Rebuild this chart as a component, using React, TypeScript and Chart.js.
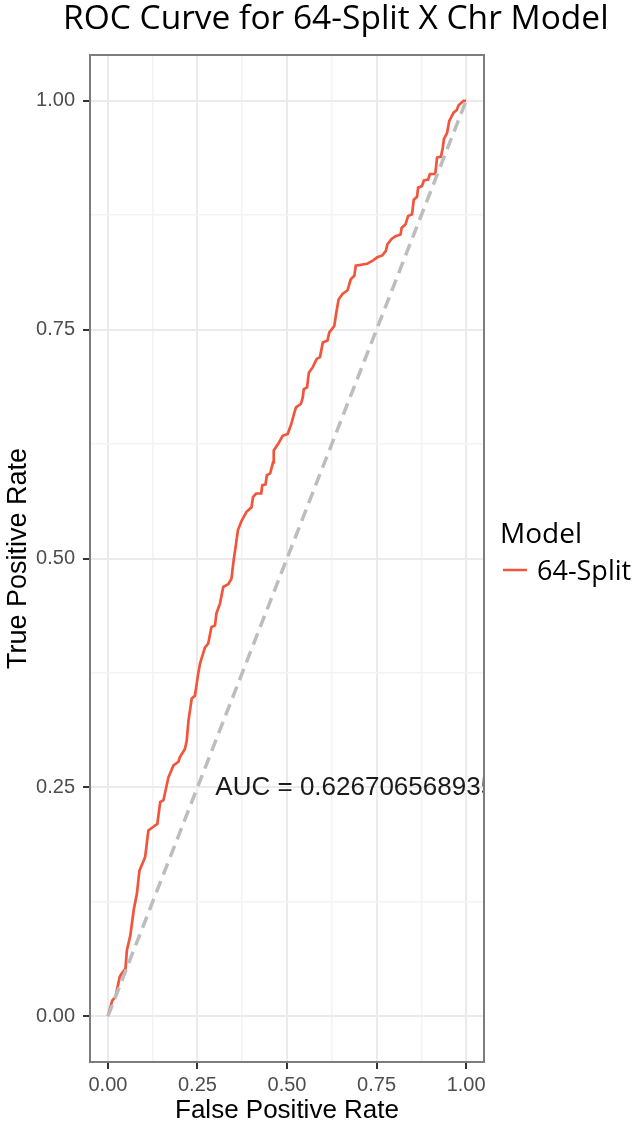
import { useEffect, useRef } from "react";
import { Chart, registerables } from "chart.js";

Chart.register(...registerables);

const chartTitle = "ROC Curve for 64-Split X Chr Model";
const xAxisTitle = "False Positive Rate";
const yAxisTitle = "True Positive Rate";
const legendTitle = "Model";
const seriesName = "64-Split";
const aucLabel = "AUC = 0.626706568935";
const aucX = 0.3;
const aucY = 0.25;

const majorTicks = [0, 0.25, 0.5, 0.75, 1];
const minorTicks = [0.125, 0.375, 0.625, 0.875];
const tickLabels = ["0.00", "0.25", "0.50", "0.75", "1.00"];

const fpr = [
  0, 0.012, 0.021, 0.033, 0.039, 0.049, 0.053, 0.0625, 0.072, 0.081, 0.088, 0.1, 0.104, 0.113, 0.127,
  0.138, 0.146, 0.155, 0.169, 0.183, 0.197, 0.201, 0.215, 0.22, 0.225, 0.234, 0.243, 0.252, 0.257,
  0.271, 0.28, 0.289, 0.299, 0.303, 0.313, 0.322, 0.336, 0.345, 0.351, 0.357, 0.363, 0.373, 0.387,
  0.401, 0.405, 0.414, 0.428, 0.431, 0.44, 0.444, 0.453, 0.461, 0.463, 0.475, 0.488, 0.502, 0.512,
  0.521, 0.525, 0.539, 0.544, 0.547, 0.556, 0.561, 0.572, 0.583, 0.592, 0.6, 0.613, 0.618, 0.632,
  0.637, 0.644, 0.655, 0.669, 0.678, 0.688, 0.692, 0.724, 0.738, 0.752, 0.766, 0.776, 0.78, 0.792,
  0.803, 0.817, 0.82, 0.831, 0.838, 0.849, 0.854, 0.863, 0.866, 0.877, 0.882, 0.894, 0.899, 0.914,
  0.919, 0.93, 0.935, 0.938, 0.947, 0.953, 0.965, 0.974, 0.979, 0.993, 1,
];
const tpr = [
  0, 0.017, 0.021, 0.043, 0.047, 0.052, 0.072, 0.088, 0.116, 0.134, 0.159, 0.17, 0.174, 0.203, 0.207,
  0.21, 0.234, 0.236, 0.261, 0.274, 0.278, 0.283, 0.292, 0.301, 0.323, 0.347, 0.35, 0.374, 0.385,
  0.403, 0.407, 0.425, 0.427, 0.44, 0.451, 0.469, 0.472, 0.478, 0.498, 0.514, 0.531, 0.541, 0.551,
  0.556, 0.567, 0.571, 0.571, 0.58, 0.581, 0.591, 0.593, 0.605, 0.618, 0.625, 0.634, 0.636, 0.647,
  0.66, 0.665, 0.669, 0.676, 0.685, 0.687, 0.703, 0.709, 0.718, 0.72, 0.736, 0.738, 0.747, 0.754,
  0.767, 0.783, 0.789, 0.793, 0.805, 0.809, 0.82, 0.822, 0.825, 0.829, 0.831, 0.836, 0.843, 0.849,
  0.852, 0.854, 0.861, 0.865, 0.874, 0.876, 0.892, 0.895, 0.905, 0.907, 0.913, 0.914, 0.92, 0.92,
  0.938, 0.939, 0.949, 0.958, 0.965, 0.978, 0.987, 0.99, 0.995, 1.0, 1,
];
const diagX = [0, 1];
const diagY = [0, 1];

const RED = "#f2553b";
const GREY_TEXT = "#4d4d4d";
const SANS = "'Liberation Sans', Arial, Helvetica, sans-serif";
const HUMANIST = "'Open Sans', 'Noto Sans', sans-serif";

const isMajor = (v: number) => majorTicks.some((m) => Math.abs(m - v) < 1e-9);
const labelFor = (v: number) => {
  const i = majorTicks.findIndex((m) => Math.abs(m - v) < 1e-9);
  return i >= 0 ? tickLabels[i] : "";
};

const decorPlugin = {
  id: "decor",
  afterDatasetsDraw(chart: any) {
    const { ctx, chartArea, scales } = chart;
    const a = chartArea;
    ctx.save();
    ctx.beginPath();
    ctx.rect(a.left, a.top, a.right - a.left, a.bottom - a.top);
    ctx.clip();
    ctx.fillStyle = "#1a1a1a";
    ctx.font = `26px ${SANS}`;
    ctx.textAlign = "left";
    ctx.textBaseline = "middle";
    ctx.fillText(aucLabel, scales.x.getPixelForValue(aucX), scales.y.getPixelForValue(aucY));
    ctx.restore();
    ctx.save();
    ctx.strokeStyle = "#7d7d7d";
    ctx.lineWidth = 2;
    ctx.strokeRect(a.left, a.top, a.right - a.left, a.bottom - a.top);
    ctx.restore();
  },
  afterDraw(chart: any) {
    const { ctx, chartArea } = chart;
    const a = chartArea;
    ctx.save();
    ctx.fillStyle = "#000";
    ctx.font = `33.5px ${HUMANIST}`;
    ctx.textAlign = "left";
    ctx.textBaseline = "middle";
    ctx.fillText(chartTitle, 63, 19);
    ctx.font = `26px ${SANS}`;
    ctx.textAlign = "center";
    ctx.fillText(xAxisTitle, (a.left + a.right) / 2, 1111);
    ctx.save();
    ctx.translate(19, (a.top + a.bottom) / 2);
    ctx.rotate(-Math.PI / 2);
    ctx.font = `27px ${SANS}`;
    ctx.fillText(yAxisTitle, 0, 0);
    ctx.restore();
    ctx.textAlign = "left";
    ctx.font = `28px ${HUMANIST}`;
    ctx.fillText(legendTitle, 500, 535);
    ctx.strokeStyle = RED;
    ctx.lineWidth = 2.5;
    ctx.beginPath();
    ctx.moveTo(503, 570);
    ctx.lineTo(527, 570);
    ctx.stroke();
    ctx.font = `27px ${HUMANIST}`;
    ctx.fillText(seriesName, 537, 572);
    ctx.restore();
  },
};

function makeScale(axis: "x" | "y") {
  return {
    type: "linear" as const,
    min: -0.05,
    max: 1.05,
    afterBuildTicks(scale: any) {
      scale.ticks = [...majorTicks, ...minorTicks].sort((p, q) => p - q).map((v) => ({ value: v }));
    },
    afterFit(scale: any) {
      if (axis === "y") scale.width = 90;
      else scale.height = 61;
    },
    border: { display: false },
    grid: {
      color: (c: any) => (isMajor(c.tick?.value) ? "#ebebeb" : "#f3f3f3"),
      lineWidth: (c: any) => (isMajor(c.tick?.value) ? 2 : 1.5),
      tickColor: (c: any) => (isMajor(c.tick?.value) ? "#333333" : "rgba(0,0,0,0)"),
      tickLength: 7,
      tickWidth: 2,
      drawTicks: true,
    },
    ticks: {
      autoSkip: false,
      maxRotation: 0,
      padding: axis === "y" ? 8 : 4,
      color: GREY_TEXT,
      font: { family: SANS, size: 20 },
      callback: (v: any) => labelFor(Number(v)),
    },
  };
}

export default function App() {
  const ref = useRef<HTMLCanvasElement | null>(null);
  useEffect(() => {
    document.body.style.margin = "0";
    const canvas = ref.current!;
    const chart = new Chart(canvas, {
      type: "line",
      data: {
        datasets: [
          {
            label: "diagonal",
            data: diagX.map((x, i) => ({ x, y: diagY[i] })),
            borderColor: "#bdbdbd",
            borderWidth: 3.5,
            borderDash: [12, 7],
            pointRadius: 0,
            tension: 0,
            order: 0,
          },
          {
            label: seriesName,
            data: fpr.map((x, i) => ({ x, y: tpr[i] })),
            borderColor: RED,
            borderWidth: 2.7,
            pointRadius: 0,
            tension: 0,
            order: 1,
          },
        ],
      },
      options: {
        animation: false,
        responsive: false,
        devicePixelRatio: 1,
        layout: { padding: { top: 55, right: 149, left: 0, bottom: 0 } },
        plugins: {
          legend: { display: false },
          title: { display: false },
          tooltip: { enabled: false },
        },
        scales: {
          x: makeScale("x"),
          y: makeScale("y"),
        },
      },
      plugins: [decorPlugin],
    });
    return () => chart.destroy();
  }, []);
  return (
    <div style={{ width: 633, height: 1123, background: "#fff" }}>
      <canvas ref={ref} width={633} height={1123} />
    </div>
  );
}
